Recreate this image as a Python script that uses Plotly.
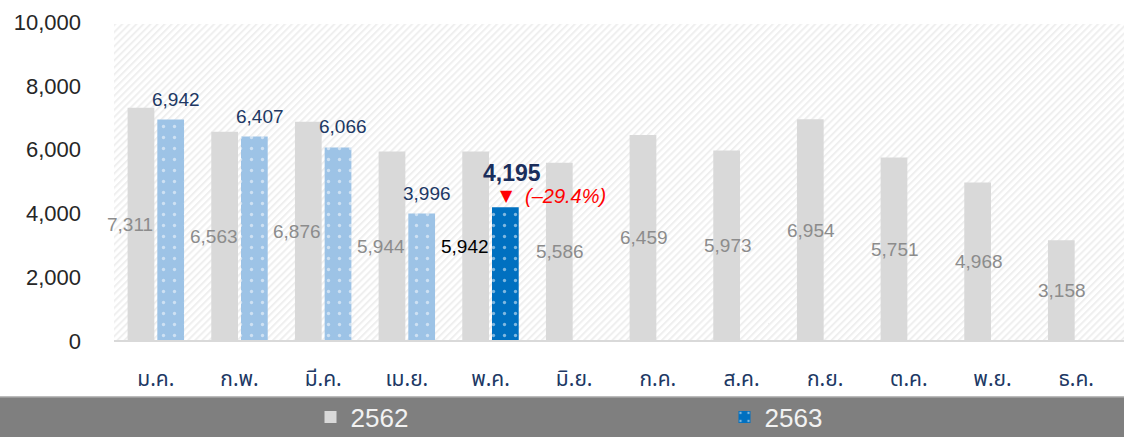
import plotly.graph_objects as go

months = ["ม.ค.", "ก.พ.", "มี.ค.", "เม.ย.", "พ.ค.", "มิ.ย.", "ก.ค.", "ส.ค.", "ก.ย.", "ต.ค.", "พ.ย.", "ธ.ค."]
values_2562 = [7311, 6563, 6876, 5944, 5942, 5586, 6459, 5973, 6954, 5751, 4968, 3158]
values_2563 = [6942, 6407, 6066, 3996, 4195]
series_names = ["2562", "2563"]
y_ticks = [0, 2000, 4000, 6000, 8000, 10000]

W, H = 1124, 437
ML, MR, MT, MB = 114, 6, 22, 96
PW = W - ML - MR
PH = H - MT - MB
EXT = (W - ML) / PW  # background/baseline extend to the right edge

GRAY = "#D9D9D9"
LIGHT_BLUE = "#9DC3E6"
DARK_BLUE = "#0070C0"
NAVY = "#203864"

n = len(values_2563)
fig = go.Figure()

fig.add_trace(go.Bar(
    x=months, y=values_2562, name=series_names[0],
    marker=dict(color=GRAY, line=dict(width=0)),
    offsetgroup="a",
))
fig.add_trace(go.Bar(
    x=months[:n - 1], y=values_2563[:n - 1], name=series_names[1],
    marker=dict(color=LIGHT_BLUE, line=dict(width=0),
                pattern=dict(shape=".", fgcolor="white", bgcolor=LIGHT_BLUE, size=11, solidity=0.07)),
    offsetgroup="b", showlegend=False, legendgroup="b",
))
fig.add_trace(go.Bar(
    x=months[n - 1:n], y=values_2563[n - 1:n], name=series_names[1],
    marker=dict(color=DARK_BLUE, line=dict(width=0),
                pattern=dict(shape=".", fgcolor="white", bgcolor=DARK_BLUE, size=11, solidity=0.07)),
    offsetgroup="b", legendgroup="b",
))

annotations = []
FONT = "Liberation Sans, Arial, sans-serif"
# 2562 labels (centered vertically on gray bars)
for i, (m, v) in enumerate(zip(months, values_2562)):
    has_new = i < n
    annotations.append(dict(
        x=m, y=v / 2, xref="x", yref="y", text=f"{v:,}", showarrow=False,
        xshift=-26 if has_new else -14,
        font=dict(family=FONT, size=19, color="#000000" if i == n - 1 else "#8C8C8C"),
    ))
# 2563 labels above blue bars
for i, (m, v) in enumerate(zip(months, values_2563)):
    last = i == n - 1
    annotations.append(dict(
        x=m, y=v, xref="x", yref="y", text=f"{v:,}" if not last else f"<b>{v:,}</b>",
        showarrow=False, yanchor="bottom",
        xshift=20 if not last else 21, yshift=8 if not last else 19,
        font=dict(family=FONT, size=19 if not last else 23, color=NAVY if not last else "#1A2E5C"),
    ))
# change vs previous year
pct = (values_2563[n - 1] - values_2562[n - 1]) / values_2562[n - 1] * 100
annotations.append(dict(
    x=months[n - 1], y=values_2563[n - 1], xref="x", yref="y", text="▼", showarrow=False,
    yanchor="bottom", xshift=16, yshift=0, font=dict(family="DejaVu Sans", size=16, color="#FF0000"),
))
annotations.append(dict(
    x=months[n - 1], y=values_2563[n - 1], xref="x", yref="y",
    text=f"<i>({'–' if pct < 0 else '+'}{abs(pct):.1f}%)</i>", showarrow=False,
    xanchor="left", yanchor="bottom", xshift=32, yshift=-2,
    font=dict(family=FONT, size=20, color="#FF0000"),
))

band_top = -(397 - (MT + PH)) / PH
shapes = [
    dict(type="rect", xref="paper", yref="paper", x0=-0.2, x1=1.2, y0=-0.5, y1=band_top,
         fillcolor="#7F7F7F", line=dict(width=0), layer="below"),
    dict(type="line", xref="paper", yref="paper", x0=-0.2, x1=1.2, y0=band_top, y1=band_top,
         line=dict(color="#A6A6A6", width=1.5), layer="below"),
    dict(type="line", xref="paper", yref="paper", x0=0, x1=EXT, y0=0, y1=0,
         line=dict(color="#D9D9D9", width=2), layer="above"),
]

hatch_svg = (
    "data:image/svg+xml;utf8,"
    "<svg xmlns='http://www.w3.org/2000/svg' width='1010' height='317' viewBox='0 0 1010 317'>"
    "<defs><pattern id='p' width='5' height='5' patternUnits='userSpaceOnUse' patternTransform='rotate(45)'>"
    "<rect width='2' height='5' fill='%23EFEFEF'/></pattern></defs>"
    "<rect width='1010' height='317' fill='url(%23p)'/></svg>"
)

fig.update_layout(
    width=W, height=H,
    margin=dict(l=ML, r=MR, t=MT, b=MB, autoexpand=False),
    paper_bgcolor="white", plot_bgcolor="rgba(0,0,0,0)",
    barmode="group", bargap=0.29, bargroupgap=0.1,
    annotations=annotations, shapes=shapes,
    images=[dict(source=hatch_svg, xref="paper", yref="paper", x=0, y=0.994, sizex=EXT, sizey=0.994,
                 sizing="stretch", layer="below", xanchor="left", yanchor="top")],
    legend=dict(orientation="h", x=(310.5 - ML) / PW, xanchor="left", y=-(417 - (MT + PH)) / PH,
                yanchor="middle", entrywidth=369, entrywidthmode="pixels", bgcolor="rgba(0,0,0,0)",
                font=dict(family=FONT, size=26, color="#F2F2F2"), traceorder="normal"),
    xaxis=dict(range=[-0.5, len(months) - 0.5], showgrid=False, showline=False, zeroline=False,
               ticks="", automargin=False,
               tickfont=dict(family="Noto Sans Thai, Loma, Garuda, Tahoma, sans-serif", size=21, color=NAVY),
               ticklabelstandoff=23),
    yaxis=dict(range=[0, 10000], tickvals=y_ticks, tickformat=",", showgrid=False, zeroline=False,
               showline=False, ticks="", ticklabelstandoff=32, automargin=False,
               tickfont=dict(family=FONT, size=22, color="#262626")),
    font=dict(family=FONT),
    showlegend=True,
)

fig.write_html("out.html", config={"displayModeBar": False},
               post_script="document.body.style.margin='0';document.body.style.overflow='hidden';")
